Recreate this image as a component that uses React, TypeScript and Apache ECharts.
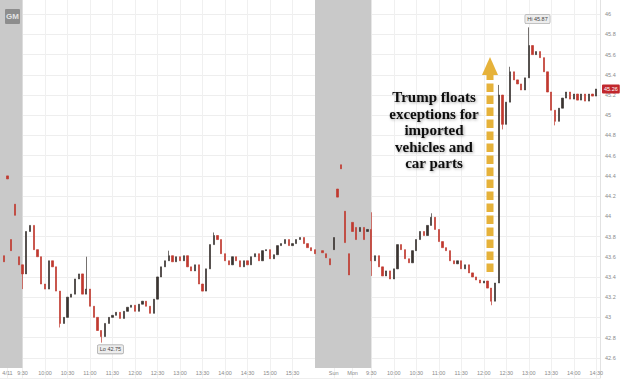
import React, { useEffect, useRef } from "react";
import * as echarts from "echarts";

// ---- bar slots (5-minute bars on a compressed session axis) ----
const TOTAL_BARS = 161;
const FRIDAY_START = 6; // 9:30 Friday
const MONDAY_START = 99; // 9:30 Monday

// Friday regular-session closes (9:30 -> 15:55)
const fridayCloses = [
  43.43, 43.85, 43.91, 43.67, 43.6, 43.33, 43.28, 43.56, 43.5, 43.26,
  42.94, 43.0, 43.2, 43.23, 43.38, 43.43, 43.23, 43.28, 43.11, 43.0,
  42.87, 42.81, 42.94, 43.0, 43.02, 43.05, 42.99, 43.06, 43.1, 43.12,
  43.06, 43.13, 43.16, 43.11, 43.04, 43.18, 43.4, 43.5, 43.56, 43.61,
  43.55, 43.6, 43.56, 43.61, 43.5, 43.46, 43.52, 43.33, 43.26, 43.48,
  43.72, 43.81, 43.77, 43.63, 43.56, 43.52, 43.6, 43.56, 43.5, 43.56,
  43.52, 43.6, 43.63, 43.56, 43.66, 43.67, 43.58, 43.62, 43.71, 43.73,
  43.77, 43.71, 43.73, 43.77, 43.79, 43.73, 43.69, 43.66,
];

// Monday regular-session closes (9:30 -> 14:30)
const mondayCloses = [
  43.56, 43.61, 43.5, 43.41, 43.46, 43.38, 43.48, 43.72, 43.67, 43.58,
  43.54, 43.66, 43.77, 43.85, 43.81, 43.91, 43.99, 43.87, 43.75, 43.69,
  43.66, 43.56, 43.53, 43.56, 43.48, 43.52, 43.44, 43.4, 43.37, 43.34,
  43.36, 43.29, 43.16, 43.34, 45.2, 44.91, 45.13, 45.43, 45.35, 45.31,
  45.25, 45.37, 45.69, 45.6, 45.63, 45.57, 45.43, 45.23, 45.05, 44.94,
  45.07, 45.17, 45.23, 45.16, 45.21, 45.15, 45.21, 45.14, 45.21, 45.19,
  45.26,
];

// Extended-hours bars: [slot, open, close]
const extendedBars: [number, number, number][] = [
  [1, 43.61, 43.55], [2, 44.4, 44.37], [3, 43.77, 43.66], [4, 44.12, 44.01], [5, 43.6, 43.52],
  [84, 43.67, 43.63], [86, 43.66, 43.64], [87, 43.63, 43.59], [88, 43.58, 43.52],
  [89, 43.67, 43.79], [90, 44.27, 44.19], [91, 44.51, 44.47], [92, 44.05, 43.74],
  [93, 43.63, 43.42], [94, 43.94, 43.85], [95, 43.89, 43.77], [96, 43.85, 43.89],
  [97, 43.89, 43.77], [98, 43.85, 43.87],
];

// Wick extremes: [slot, value]
const wickHighs: [number, number][] = [
  [23, 43.6], [45, 43.66], [57, 43.84], [99, 44.04], [115, 44.03],
  [133, 45.3], [136, 45.48], [141, 45.87],
];
const wickLows: [number, number][] = [
  [6, 43.28], [16, 42.9], [27, 42.75], [99, 43.41], [131, 43.12], [134, 44.86], [148, 44.9],
];

// Closed / extended-hours shading: [fromSlot, toSlot]
const closedSessions: [number, number][] = [[0, 6], [84, 99]];

// X tick labels: [slot, text]
const xTickLabels: [number, string][] = [
  [2, "4/11"], [6, "9:30"], [12, "10:00"], [18, "10:30"], [24, "11:00"], [30, "11:30"],
  [36, "12:00"], [42, "12:30"], [48, "13:00"], [54, "13:30"], [60, "14:00"], [66, "14:30"],
  [72, "15:00"], [78, "15:30"], [89, "Sun"], [94, "Mon"], [99, "9:30"], [105, "10:00"],
  [111, "10:30"], [117, "11:00"], [123, "11:30"], [129, "12:00"], [135, "12:30"],
  [141, "13:00"], [147, "13:30"], [153, "14:00"], [159, "14:30"],
];

const annotationLines = ["Trump floats", "exceptions for", "imported", "vehicles and", "car parts"];

function buildOhlc() {
  const ohlc: any[] = Array.from({ length: TOTAL_BARS }, () => ["-", "-", "-", "-"]);
  extendedBars.forEach(([k, o, c]) => {
    ohlc[k] = [o, c, Math.min(o, c), Math.max(o, c)];
  });
  const addSession = (start: number, closes: number[]) => {
    closes.forEach((c, i) => {
      const prev = ohlc[start + i - 1];
      const o = prev && typeof prev[1] === "number" ? prev[1] : c;
      ohlc[start + i] = [o, c, Math.min(o, c), Math.max(o, c)];
    });
  };
  addSession(FRIDAY_START, fridayCloses);
  addSession(MONDAY_START, mondayCloses);
  wickHighs.forEach(([k, h]) => {
    ohlc[k][3] = Math.max(ohlc[k][3], h);
  });
  wickLows.forEach(([k, l]) => {
    ohlc[k][2] = Math.min(ohlc[k][2], l);
  });
  return ohlc;
}

export default function App() {
  const ref = useRef<HTMLDivElement>(null);

  useEffect(() => {
    document.body.style.margin = "0";
    if (!ref.current) return;
    const chart = echarts.init(ref.current, undefined, { renderer: "svg" });
    const categories = Array.from({ length: TOTAL_BARS }, (_, i) => "slot" + i);
    const labelMap = new Map<number, string>(xTickLabels);
    const ohlc = buildOhlc();
    const lastPrice = mondayCloses[mondayCloses.length - 1];
    const axisFont = "Liberation Sans";
    const up = "#3a3430";
    const down = "#c0392f";

    chart.setOption({
      animation: false,
      backgroundColor: "#ffffff",
      grid: {
        left: 0,
        right: 20,
        top: -6,
        bottom: 1,
        containLabel: false,
        outerBoundsMode: "none",
      },
      xAxis: {
        type: "category",
        data: categories,
        boundaryGap: false,
        axisLine: { show: false },
        axisTick: { show: false },
        axisLabel: {
          inside: true,
          margin: 2,
          fontSize: 5.5,
          fontFamily: axisFont,
          color: "#8a8a8a",
          interval: (i: number) => labelMap.has(i),
          formatter: (_v: string, i: number) => labelMap.get(i) ?? "",
        },
        splitLine: {
          show: true,
          interval: (i: number) => labelMap.has(i),
          lineStyle: { color: "#f0f0f0", width: 1 },
        },
      },
      yAxis: {
        type: "value",
        position: "right",
        min: 42.4,
        max: 46.2,
        interval: 0.2,
        axisLine: { show: true, lineStyle: { color: "#e2e2e2" } },
        axisTick: { show: false },
        axisLabel: {
          fontSize: 5.5,
          fontFamily: axisFont,
          color: "#8a8a8a",
          margin: 5,
          showMinLabel: false,
          showMaxLabel: false,
        },
        splitLine: { lineStyle: { color: "#eeeeee", width: 1 } },
      },
      series: [
        {
          type: "candlestick",
          data: ohlc,
          barWidth: 1.8,
          itemStyle: {
            color: up,
            color0: down,
            borderColor: up,
            borderColor0: down,
            borderWidth: 0.7,
          },
          markArea: {
            silent: true,
            itemStyle: { color: "#c9c9c9" },
            data: closedSessions.map(([a, b]) => [
              { xAxis: categories[a], yAxis: 42.5 },
              { xAxis: categories[b], yAxis: 46.2 },
            ]),
          },
          markLine: {
            silent: true,
            symbol: ["none", "none"],
            lineStyle: { color: "transparent", width: 0 },
            label: {
              show: true,
              position: "end",
              distance: 2,
              formatter: () => lastPrice.toFixed(2),
              backgroundColor: "#c1272d",
              color: "#ffffff",
              fontSize: 5.5,
              fontFamily: axisFont,
              padding: [1.5, 2],
              borderRadius: 1,
            },
            data: [{ yAxis: lastPrice }],
          },
          markPoint: {
            symbol: "rect",
            symbolSize: 1,
            itemStyle: { color: "transparent" },
            label: {
              show: true,
              fontSize: 5.5,
              fontFamily: axisFont,
              color: "#444444",
              backgroundColor: "#ededed",
              borderColor: "#9a9a9a",
              borderWidth: 0.6,
              padding: [1.2, 2],
              borderRadius: 1,
            },
            data: [
              {
                type: "max",
                valueDim: "highest",
                label: {
                  position: [-3, -12],
                  formatter: (p: any) => "Hi " + Number(p.value).toFixed(2),
                },
              },
              {
                type: "min",
                valueDim: "lowest",
                label: {
                  position: [-3, 3],
                  formatter: (p: any) => "Lo " + Number(p.value).toFixed(2),
                },
              },
            ],
          },
        },
      ],
      graphic: [
        {
          type: "rect",
          shape: { x: 5, y: 9, width: 15, height: 15, r: 1 },
          style: { fill: "#8d8d8d" },
          z: 100,
        },
        {
          type: "text",
          x: 12.5,
          y: 16.5,
          style: {
            text: "GM",
            fill: "#e4e4e4",
            fontSize: 8,
            fontWeight: "bold",
            fontFamily: axisFont,
            textAlign: "center",
            textVerticalAlign: "middle",
          },
          z: 101,
        },
        {
          type: "text",
          x: 434,
          y: 89,
          style: {
            text: annotationLines.join("\n"),
            fill: "#111111",
            fontSize: 15,
            lineHeight: 16.5,
            fontWeight: "bold",
            fontFamily: "Liberation Serif",
            textAlign: "center",
            textVerticalAlign: "top",
            textShadowColor: "rgba(0,0,0,0.35)",
            textShadowBlur: 3,
            textShadowOffsetX: 1,
            textShadowOffsetY: 1,
          },
          z: 100,
        },
        {
          type: "line",
          shape: { x1: 490, y1: 272, x2: 490, y2: 75 },
          style: { stroke: "#e6b23a", lineWidth: 7, lineDash: [8.5, 3.5] },
          z: 100,
        },
        {
          type: "polygon",
          shape: { points: [[482, 75], [498, 75], [490, 57]] },
          style: { fill: "#e6b23a" },
          z: 100,
        },
      ],
    });
    return () => chart.dispose();
  }, []);

  return <div ref={ref} style={{ width: 620, height: 379 }} />;
}
